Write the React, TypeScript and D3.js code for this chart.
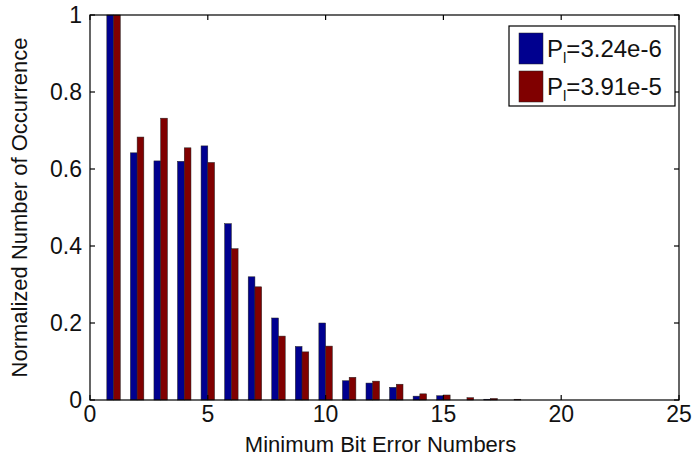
import React from "react";
import * as d3 from "d3";

const categories = [1, 2, 3, 4, 5, 6, 7, 8, 9, 10, 11, 12, 13, 14, 15, 16, 17, 18];
const seriesA = [1, 0.642, 0.621, 0.62, 0.66, 0.458, 0.32, 0.213, 0.139, 0.2, 0.05, 0.044, 0.033, 0.01, 0.011, 0, 0.002, 0];
const seriesB = [1, 0.683, 0.732, 0.655, 0.617, 0.393, 0.294, 0.166, 0.125, 0.14, 0.059, 0.049, 0.041, 0.016, 0.013, 0.006, 0.004, 0.002];
const seriesNames = ["=3.24e-6", "=3.91e-5"];
const colors = ["#00008F", "#800000"];
const xTicks = [0, 5, 10, 15, 20, 25];
const yTicks = [0, 0.2, 0.4, 0.6, 0.8, 1];
const xTitle = "Minimum Bit Error Numbers";
const yTitle = "Normalized Number of Occurrence";

const W = 695;
const H = 468;
const left = 90;
const right = 679;
const top = 15;
const bottom = 400;
const FONT = "'Liberation Sans', Arial, Helvetica, sans-serif";

export default function App() {
  const x = d3.scaleLinear().domain([0, 25]).range([left, right]);
  const y = d3.scaleLinear().domain([0, 1]).range([bottom, top]);
  const groupW = 2 / 3.5; // matlab grouped bar width
  const barW = groupW / 2;
  const tickLen = 5;
  const yFmt = (v: number) => (v === 0 || v === 1 ? String(v) : d3.format(".1f")(v));

  return (
    <svg
      width={W}
      height={H}
      style={{ position: "absolute", left: 0, top: 0, background: "#fff" }}
      fontFamily={FONT}
    >
      <rect x={0} y={0} width={W} height={H} fill="#fff" />
      {categories.map((c, i) => (
        <g key={c}>
          {seriesA[i] > 0 && (
            <rect
              x={x(c - barW)}
              y={y(seriesA[i])}
              width={x(c) - x(c - barW)}
              height={y(0) - y(seriesA[i])}
              fill={colors[0]}
              stroke="#222"
              strokeWidth={0.5}
            />
          )}
          {seriesB[i] > 0 && (
            <rect
              x={x(c)}
              y={y(seriesB[i])}
              width={x(c + barW) - x(c)}
              height={y(0) - y(seriesB[i])}
              fill={colors[1]}
              stroke="#222"
              strokeWidth={0.5}
            />
          )}
        </g>
      ))}
      <rect x={left} y={top} width={right - left} height={bottom - top} fill="none" stroke="#000" strokeWidth={1.2} />
      {xTicks.map((t) => (
        <g key={"x" + t}>
          <line x1={x(t)} x2={x(t)} y1={bottom} y2={bottom - tickLen} stroke="#000" strokeWidth={1.2} />
          <line x1={x(t)} x2={x(t)} y1={top} y2={top + tickLen} stroke="#000" strokeWidth={1.2} />
          <text x={x(t)} y={bottom + 22} textAnchor="middle" fontSize={23} fill="#111">
            {t}
          </text>
        </g>
      ))}
      {yTicks.map((t) => (
        <g key={"y" + t}>
          <line x1={left} x2={left + tickLen} y1={y(t)} y2={y(t)} stroke="#000" strokeWidth={1.2} />
          <line x1={right} x2={right - tickLen} y1={y(t)} y2={y(t)} stroke="#000" strokeWidth={1.2} />
          <text x={left - 8} y={y(t) + 8} textAnchor="end" fontSize={23} fill="#111">
            {yFmt(t)}
          </text>
        </g>
      ))}
      <text x={(left + right) / 2 - 4} y={452} textAnchor="middle" fontSize={22} fill="#111">
        {xTitle}
      </text>
      <text
        transform={`translate(27, ${(top + bottom) / 2}) rotate(-90)`}
        textAnchor="middle"
        fontSize={22}
        fill="#111"
      >
        {yTitle}
      </text>
      <g>
        <rect x={509} y={26} width={166} height={80} fill="#fff" stroke="#000" strokeWidth={1.2} />
        {seriesNames.map((name, i) => (
          <g key={name}>
            <rect x={519} y={33 + i * 38} width={24} height={31} fill={colors[i]} stroke="#222" strokeWidth={0.5} />
            <text x={547} y={57 + i * 38} fontSize={24} fill="#111">
              P
              <tspan dy={6} fontSize={15}>l</tspan>
              <tspan dy={-6}>{name}</tspan>
            </text>
          </g>
        ))}
      </g>
    </svg>
  );
}
